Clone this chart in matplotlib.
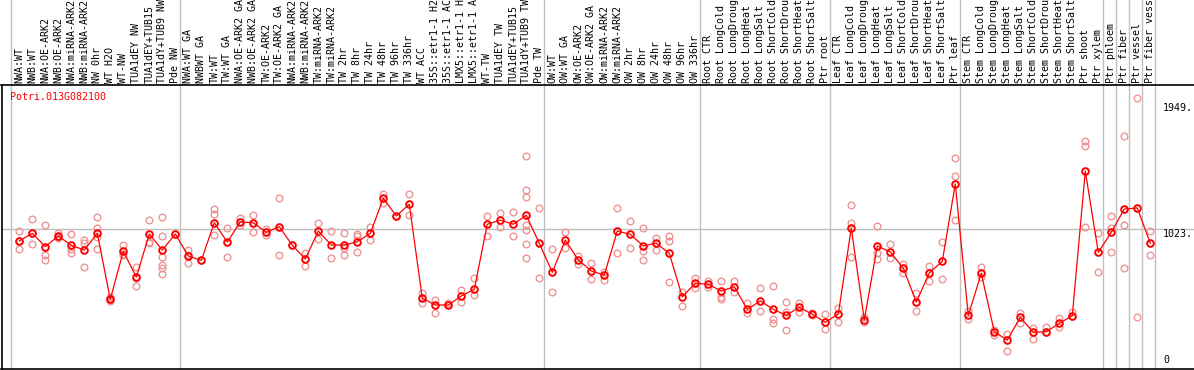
import matplotlib
matplotlib.use("Agg")
import matplotlib.pyplot as plt
import matplotlib.transforms as mtransforms

# sample labels (already truncated to 14 chars, as in the chart)
labels = [
    "NWA:WT", "NWB:WT", "NWA:OE-ARK2", "NWB:OE-ARK2", "NWA:miRNA-ARK2", "NWB:miRNA-ARK2",
    "NW 0hr", "WT H2O", "WT-NW", "TUA1dEY NW", "TUA1dEY+TUB15", "TUA1dY+TUB9 NW", "Pde NW",
    "NWA:WT GA", "NWBWT GA", "TW:WT", "TW:WT GA", "NWA:OE-ARK2 GA", "NWB:OE-ARK2 GA",
    "TW:OE-ARK2", "TW:OE-ARK2 GA", "NWA:miRNA-ARK2", "NWB:miRNA-ARK2", "TW:miRNA-ARK2",
    "TW:miRNA-ARK2", "TW 2hr", "TW 8hr", "TW 24hr", "TW 48hr", "TW 96hr", "TW 336hr",
    "WT ACC", "35S::etr1-1 H2", "35S::etr1-1 AC", "LMX5::etr1-1 H", "LMX5::etr1-1 A",
    "WT-TW", "TUA1dEY TW", "TUA1dEY+TUB15", "TUA1dY+TUB9 TW", "Pde TW",
    "OW:WT", "OW:WT GA", "OW:OE-ARK2", "OW:OE-ARK2 GA", "OW:miRNA-ARK2", "OW:miRNA-ARK2",
    "OW 2hr", "OW 8hr", "OW 24hr", "OW 48hr", "OW 96hr", "OW 336hr",
    "Root CTR", "Root LongCold", "Root LongDroug", "Root LongHeat", "Root LongSalt",
    "Root ShortCold", "Root ShortDrou", "Root ShortHeat", "Root ShortSalt", "Ptr root",
    "Leaf CTR", "Leaf LongCold", "Leaf LongDroug", "Leaf LongHeat", "Leaf LongSalt",
    "Leaf ShortCold", "Leaf ShortDrou", "Leaf ShortHeat", "Leaf ShortSalt", "Ptr leaf",
    "Stem CTR", "Stem LongCold", "Stem LongDroug", "Stem LongHeat", "Stem LongSalt",
    "Stem ShortCold", "Stem ShortDrou", "Stem ShortHeat", "Stem ShortSalt", "Ptr shoot",
    "Ptr xylem", "Ptr phloem", "Ptr fiber", "Ptr vessel", "Ptr fiber vess",
]

# mean expression per sample
means = [
    933, 989, 891, 969, 901, 866, 989, 503, 857, 667, 984, 866, 984,
    822, 790, 1067, 925, 1073, 1067, 997, 1038, 901, 800, 1006, 903, 903, 927, 989,
    1247, 1117, 1203, 511, 461, 461, 527, 577, 1056, 1087, 1056, 1122, 916,
    702, 940, 793, 712, 682, 1006, 982, 896, 916, 842, 522, 621,
    614, 564, 596, 429, 491, 429, 385, 444, 393, 334,
    395, 1028, 351, 896, 852, 732, 483, 697, 783, 1353,
    385, 695, 264, 203, 371, 260, 264, 326, 382, 1448, 849,
    997, 1168, 1176, 916,
]

# replicate values per sample
reps = [
    [1006, 872, 933], [1095, 908, 989], [1050, 830, 793], [989, 953, 965],
    [984, 842, 871], [940, 920, 741], [1109, 1032, 964, 871], [518, 498, 492],
    [903, 835, 833], [741, 601, 660], [1087, 927, 916],
    [1109, 972, 817, 756, 732, 687], [984],
    [866, 773, 827], [790], [1172, 1133, 977], [1031, 813], [1100, 1050],
    [1124, 997], [1019, 977], [1249, 830], [901], [842, 751], [1067, 945],
    [1006, 805], [989, 879, 830], [984, 972, 849], [1038, 940], [1279, 1210],
    [1117], [1279, 1124], [552, 474], [498, 404], [478, 461], [572, 481],
    [658, 535], [1117, 969], [1141, 1038], [1146, 969],
    [1559, 1308, 1259, 1050, 1014, 908, 805], [1176, 658],
    [872, 557], [999, 879], [822, 763], [773, 650], [707, 645], [1174, 842],
    [1080, 879], [1031, 859, 793], [953, 866], [972, 935, 631], [555, 454],
    [662, 584],
    [638, 596], [638, 522, 503], [638, 559], [474, 404], [584, 417],
    [601, 356, 326], [483, 412, 277], [474, 407], [404, 385], [393, 284],
    [437, 338], [1198, 1067, 817], [375, 334], [1043, 842, 800], [911, 805],
    [763, 699], [552, 417], [748, 636], [923, 650], [1542, 1412, 1087],
    [415, 360], [739, 670], [277, 240], [245, 122], [400, 331], [294, 208],
    [297, 260], [363, 297], [407, 382], [1672, 1633, 1034], [994, 702],
    [1117, 1031, 849], [1706, 1050, 732], [1984, 371], [1006, 830],
]

# last sample index of each group (vertical separators)
group_ends = [0, 13, 41, 53, 63, 73, 84, 85, 86, 87, 88]
y_labels = [1949, 1023, 0]
gene = "Potri.013G082100"

W, H = 1194, 370
fig = plt.figure(figsize=(W / 100, H / 100), dpi=100)
top_px, bot_px, left_px = 85.3, 368.5, 1.5
ax = fig.add_axes([left_px / W, 1 - bot_px / H, 1 - left_px / W, (bot_px - top_px) / H])

mono = "DejaVu Sans Mono"
red = "#ff0000"
pink = "#ee9494"
grey = "#c0c0c0"

x = list(range(1, len(labels) + 1))

# separators run through the label header as well
head = 1 + top_px / (bot_px - top_px)
for g in group_ends:
    ax.axvline(g + 0.36, 0, head, color=grey, lw=1.0, clip_on=False, zorder=0)
ax.axhline(1023, color=grey, lw=1.0, zorder=0)

for xi, r in zip(x, reps):
    ax.plot([xi] * len(r), r, ls="none", marker="o", ms=4.8, mfc="none",
            mec=pink, mew=1.0, zorder=2)
ax.plot(x, means, color=red, lw=0.9, marker="o", ms=4.8, mfc="none",
        mec=red, mew=1.4, zorder=3)

ax.set_xlim(-0.369, 91.362)
ax.set_ylim((367.6 - bot_px) * 7.367, (367.6 - top_px) * 7.367)

ax.xaxis.set_ticks_position("top")
ax.set_xticks(x)
ax.set_xticklabels(labels, rotation=90, fontsize=7.2, family=mono, va="bottom", ha="center")
ax.tick_params(axis="x", length=0, pad=1.5)
ax.set_yticks([])

for s in ["left", "top", "bottom"]:
    ax.spines[s].set_linewidth(1.2)
ax.spines["right"].set_visible(False)

ax.text((10 - left_px) / (W - left_px), 0.96, gene, transform=ax.transAxes, color=red,
        fontsize=7.2, family=mono, ha="left", va="center")

tr = mtransforms.blended_transform_factory(ax.transAxes, ax.transData)
lx = (1163 - left_px) / (W - left_px)
for v in y_labels[:2]:
    ax.text(lx, v, "%d." % v, transform=tr, fontsize=7.2, family=mono, ha="left", va="top")
ax.text(lx, 0.012, "0", transform=ax.transAxes, fontsize=7.2, family=mono, ha="left", va="bottom")

fig.savefig("out.png", dpi=100)
